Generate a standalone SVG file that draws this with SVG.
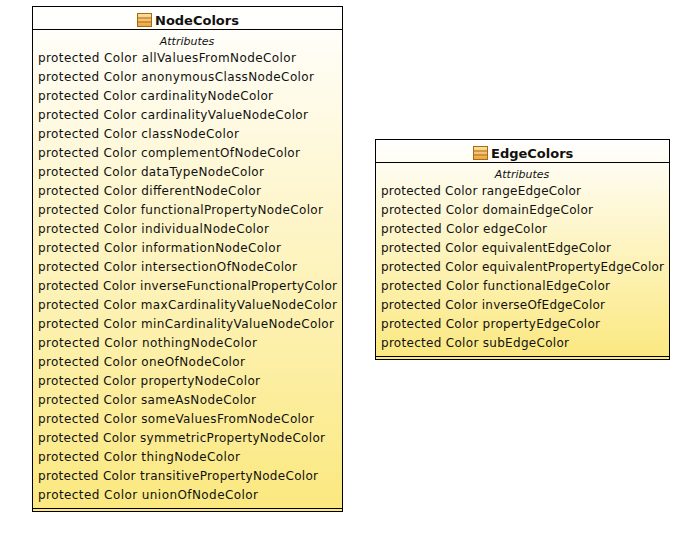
<svg xmlns="http://www.w3.org/2000/svg" width="692" height="548" viewBox="0 0 692 548">
<defs>
<linearGradient id="fill" x1="0" y1="0" x2="0" y2="1"><stop offset="0" stop-color="#ffffff"/><stop offset="1" stop-color="#fbe87f"/></linearGradient>
<linearGradient id="ic" x1="0" y1="0" x2="0" y2="1"><stop offset="0" stop-color="#fbe3a8"/><stop offset="1" stop-color="#eca23c"/></linearGradient>
<g id="icon"><rect x="0.5" y="0.5" width="14" height="13" fill="url(#ic)" stroke="#a8690f"/><path d="M1 5H14M1 9H14" stroke="#a8690f" fill="none"/></g>
</defs>
<style>
.box{fill:url(#fill);stroke:#000;stroke-width:1}
.ln{stroke:#000;stroke-width:1;fill:none}
text{font-family:"DejaVu Sans","Liberation Sans",sans-serif;fill:#111}
.t{font-size:13px;font-weight:bold;text-anchor:start}
.s{font-size:11px;font-style:italic;text-anchor:middle}
.a{font-size:12px}
</style>
<rect width="692" height="548" fill="#fff"/>
<g id="NodeColors">
<rect class="box" x="32.5" y="6.5" width="310" height="505"/>
<path class="ln" d="M32.5 29.5H342.5M32.5 508.5H342.5"/>
<use href="#icon" x="137" y="13"/>
<text class="t" x="155" y="25">NodeColors</text>
<text class="s" x="187" y="45">Attributes</text>
<g class="a">
<text x="38" y="62" textLength="258">protected Color allValuesFromNodeColor</text>
<text x="38" y="81" textLength="276">protected Color anonymousClassNodeColor</text>
<text x="38" y="100" textLength="235">protected Color cardinalityNodeColor</text>
<text x="38" y="119" textLength="270">protected Color cardinalityValueNodeColor</text>
<text x="38" y="138" textLength="201">protected Color classNodeColor</text>
<text x="38" y="157" textLength="262">protected Color complementOfNodeColor</text>
<text x="38" y="176" textLength="226">protected Color dataTypeNodeColor</text>
<text x="38" y="195" textLength="223">protected Color differentNodeColor</text>
<text x="38" y="214" textLength="285">protected Color functionalPropertyNodeColor</text>
<text x="38" y="233" textLength="231">protected Color individualNodeColor</text>
<text x="38" y="252" textLength="243">protected Color informationNodeColor</text>
<text x="38" y="271" textLength="259">protected Color intersectionOfNodeColor</text>
<text x="38" y="290" textLength="299">protected Color inverseFunctionalPropertyColor</text>
<text x="38" y="309" textLength="299">protected Color maxCardinalityValueNodeColor</text>
<text x="38" y="328" textLength="296">protected Color minCardinalityValueNodeColor</text>
<text x="38" y="347" textLength="219">protected Color nothingNodeColor</text>
<text x="38" y="366" textLength="207">protected Color oneOfNodeColor</text>
<text x="38" y="385" textLength="222">protected Color propertyNodeColor</text>
<text x="38" y="404" textLength="218">protected Color sameAsNodeColor</text>
<text x="38" y="423" textLength="276">protected Color someValuesFromNodeColor</text>
<text x="38" y="442" textLength="287">protected Color symmetricPropertyNodeColor</text>
<text x="38" y="461" textLength="202">protected Color thingNodeColor</text>
<text x="38" y="480" textLength="280">protected Color transitivePropertyNodeColor</text>
<text x="38" y="499" textLength="220">protected Color unionOfNodeColor</text>
</g>
</g>
<g id="EdgeColors">
<rect class="box" x="375.5" y="139.5" width="294" height="220"/>
<path class="ln" d="M375.5 162.5H669.5M375.5 356.5H669.5"/>
<use href="#icon" x="473" y="146"/>
<text class="t" x="491" y="158">EdgeColors</text>
<text class="s" x="522" y="178">Attributes</text>
<g class="a">
<text x="381" y="195" textLength="200">protected Color rangeEdgeColor</text>
<text x="381" y="214" textLength="212">protected Color domainEdgeColor</text>
<text x="381" y="233" textLength="166">protected Color edgeColor</text>
<text x="381" y="252" textLength="230">protected Color equivalentEdgeColor</text>
<text x="381" y="271" textLength="283">protected Color equivalentPropertyEdgeColor</text>
<text x="381" y="290" textLength="229">protected Color functionalEdgeColor</text>
<text x="381" y="309" textLength="224">protected Color inverseOfEdgeColor</text>
<text x="381" y="328" textLength="219">protected Color propertyEdgeColor</text>
<text x="381" y="347" textLength="188">protected Color subEdgeColor</text>
</g>
</g>
<g id="connectors"></g>
</svg>
